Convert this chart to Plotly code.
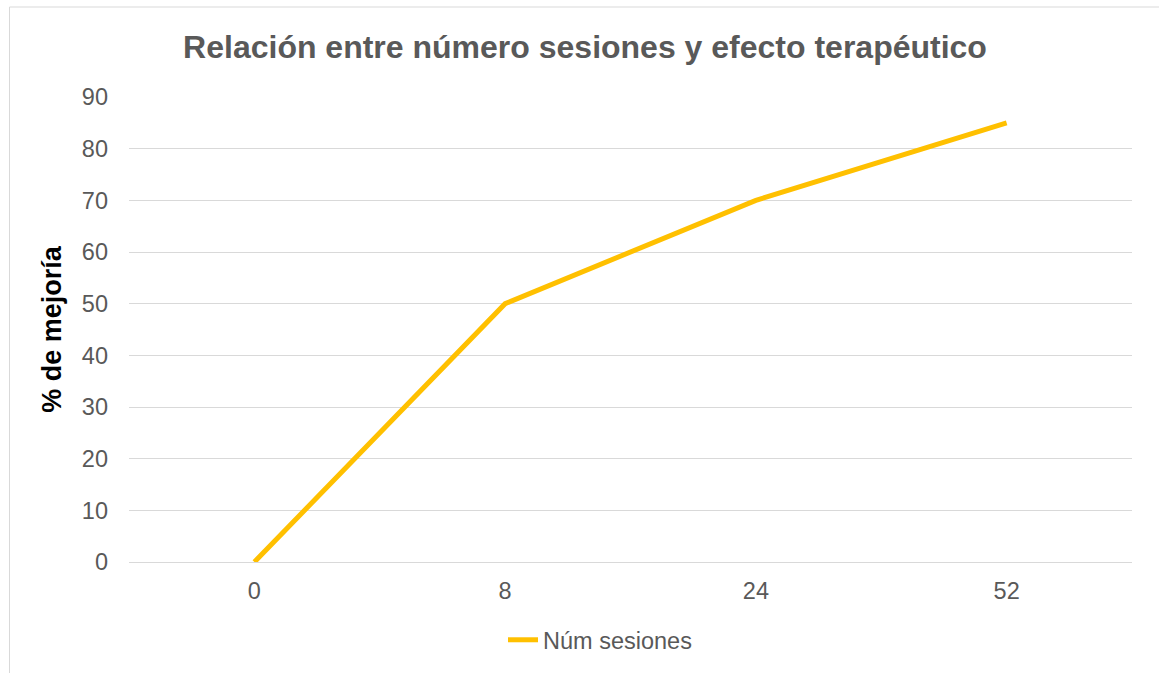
import plotly.graph_objects as go

categories = ["0", "8", "24", "52"]
mejoria = [0, 50, 70, 85]
series_name = "Núm sesiones"
y_ticks = [0, 10, 20, 30, 40, 50, 60, 70, 80, 90]

W, H = 1159, 673
L, R, T, B = 129, 27, 97, 111
pw = W - L - R
ph = H - T - B

FONT = "Liberation Sans, Arial, sans-serif"
GREY = "#595959"
GRID = "#d9d9d9"

fig = go.Figure()
fig.add_trace(go.Scatter(
    x=categories, y=mejoria, mode="lines", name=series_name,
    line=dict(color="#FFC000", width=5),
))

fig.update_layout(
    width=W, height=H,
    margin=dict(l=L, r=R, t=T, b=B, autoexpand=False),
    paper_bgcolor="white", plot_bgcolor="white",
    title=dict(
        text="<b>Relación entre número sesiones y efecto terapéutico</b>",
        font=dict(family=FONT, size=32, color=GREY),
        x=585 / W, xref="container", xanchor="center",
        y=1 - 47 / H, yref="container", yanchor="middle",
    ),
    showlegend=True,
    legend=dict(
        orientation="h", x=(600 - L) / pw, xanchor="center",
        y=(H - B - 640) / ph, yanchor="middle",
        font=dict(family=FONT, size=23.5, color=GREY),
        bgcolor="rgba(0,0,0,0)",
    ),
    xaxis=dict(
        type="category", range=[-0.5, 3.5],
        showgrid=False, showline=False, zeroline=False,
        ticks="", ticklabelstandoff=12,
        tickfont=dict(family=FONT, size=23.5, color=GREY),
    ),
    yaxis=dict(
        range=[0, 90], tickvals=y_ticks,
        showgrid=True, gridcolor=GRID, gridwidth=1,
        zeroline=True, zerolinecolor=GRID, zerolinewidth=1,
        showline=False, ticks="", ticklabelstandoff=20,
        tickfont=dict(family=FONT, size=23.5, color=GREY),
        title=dict(text="<b>% de mejoría</b>", standoff=12,
                   font=dict(family=FONT, size=27, color="black")),
    ),
    shapes=[dict(
        type="rect", xref="paper", yref="paper",
        x0=(9.5 - L) / pw, x1=(W + 5 - L) / pw,
        y0=(H - B - (H + 5)) / ph, y1=(H - B - 7) / ph,
        line=dict(color=GRID, width=1), fillcolor="rgba(0,0,0,0)",
        layer="below",
    )],
)

fig.write_html("out.html")
